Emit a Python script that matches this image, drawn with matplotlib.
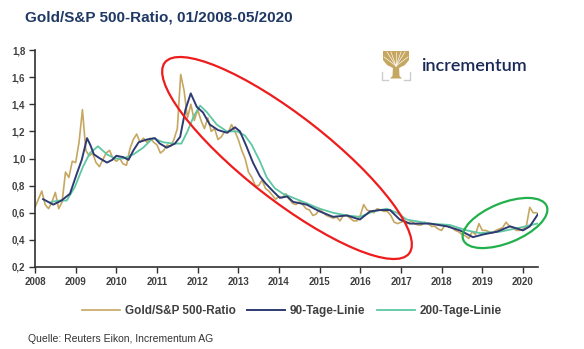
import matplotlib
matplotlib.use('Agg')
import matplotlib.pyplot as plt
from matplotlib.patches import Ellipse, Polygon, Rectangle
import pandas as pd

plt.rcParams['font.family'] = ['Liberation Sans', 'DejaVu Sans']

# Gold/S&P 500 ratio, monthly, 01/2008 - 05/2020
months = pd.date_range('2008-01-01', '2020-05-01', freq='MS')
ratio = [
    0.64, 0.70, 0.76, 0.66, 0.63, 0.68, 0.75, 0.63, 0.68, 0.90, 0.86, 0.98,   # 2008
    0.97, 1.12, 1.36, 1.06, 1.02, 1.04, 0.97, 0.94, 0.99, 1.04, 1.06, 1.00,   # 2009
    0.98, 1.00, 0.96, 0.95, 1.07, 1.14, 1.18, 1.12, 1.15, 1.12, 1.15, 1.12,   # 2010
    1.10, 1.04, 1.06, 1.10, 1.09, 1.14, 1.22, 1.62, 1.50, 1.30, 1.40, 1.28,   # 2011
    1.36, 1.28, 1.22, 1.30, 1.20, 1.22, 1.14, 1.16, 1.20, 1.19, 1.25, 1.20,   # 2012
    1.14, 1.06, 1.00, 0.90, 0.86, 0.80, 0.80, 0.84, 0.78, 0.76, 0.73, 0.70,   # 2013
    0.72, 0.71, 0.74, 0.70, 0.67, 0.66, 0.68, 0.66, 0.63, 0.62, 0.58, 0.59,   # 2014
    0.63, 0.60, 0.58, 0.57, 0.56, 0.57, 0.54, 0.58, 0.58, 0.56, 0.54, 0.54,   # 2015
    0.58, 0.66, 0.62, 0.61, 0.60, 0.63, 0.62, 0.61, 0.61, 0.58, 0.53, 0.52,   # 2016
    0.53, 0.54, 0.52, 0.54, 0.52, 0.51, 0.51, 0.53, 0.52, 0.50, 0.50, 0.48,   # 2017
    0.47, 0.51, 0.50, 0.49, 0.47, 0.46, 0.44, 0.43, 0.41, 0.46, 0.44, 0.52,   # 2018
    0.47, 0.47, 0.46, 0.45, 0.47, 0.48, 0.49, 0.53, 0.50, 0.49, 0.47, 0.47,   # 2019
    0.48, 0.50, 0.64, 0.60, 0.60,                                             # 2020
]

# 90-Tage-Linie (decimal year, value)
ma90_t = [2008.20, 2008.45, 2008.65, 2008.86, 2009.03, 2009.15, 2009.28, 2009.36, 2009.45,
          2009.60, 2009.77, 2009.90, 2010.00, 2010.17, 2010.30, 2010.42, 2010.55, 2010.75,
          2010.95, 2011.07, 2011.24, 2011.44, 2011.57, 2011.70, 2011.83, 2011.98, 2012.13,
          2012.30, 2012.50, 2012.72, 2012.92, 2013.04, 2013.20, 2013.36, 2013.53, 2013.66,
          2013.85, 2014.02, 2014.20, 2014.35, 2014.68, 2015.00, 2015.33, 2015.67, 2015.99,
          2016.24, 2016.48, 2016.73, 2016.97, 2017.22, 2017.71, 2018.13, 2018.45, 2018.77,
          2019.02, 2019.36, 2019.68, 2020.00, 2020.17, 2020.37]
ma90 = [0.70, 0.66, 0.69, 0.74, 0.89, 0.99, 1.15, 1.10, 1.03,
        1.00, 0.97, 0.99, 1.02, 1.01, 0.99, 1.06, 1.12, 1.14,
        1.15, 1.11, 1.08, 1.11, 1.16, 1.36, 1.48, 1.38, 1.34,
        1.25, 1.21, 1.19, 1.23, 1.20, 1.09, 0.97, 0.87, 0.82,
        0.76, 0.71, 0.72, 0.68, 0.66, 0.61, 0.57, 0.58, 0.55,
        0.61, 0.62, 0.62, 0.55, 0.52, 0.52, 0.50, 0.47, 0.42,
        0.44, 0.46, 0.50, 0.47, 0.50, 0.59]

# 200-Tage-Linie (decimal year, value)
ma200_t = [2008.40, 2008.60, 2008.78, 2008.98, 2009.18, 2009.35, 2009.55, 2009.77, 2009.97,
           2010.17, 2010.42, 2010.66, 2010.90, 2011.15, 2011.40, 2011.60, 2011.75, 2011.90,
           2012.06, 2012.23, 2012.47, 2012.72, 2012.97, 2013.16, 2013.33, 2013.53, 2013.70,
           2013.90, 2014.10, 2014.35, 2014.68, 2015.00, 2015.33, 2015.67, 2015.99, 2016.32,
           2016.65, 2016.90, 2017.14, 2017.71, 2018.20, 2018.62, 2018.94, 2019.43, 2019.92,
           2020.35]
ma200 = [0.68, 0.69, 0.69, 0.79, 0.94, 1.04, 1.09, 1.03, 1.00,
         1.00, 1.03, 1.08, 1.15, 1.12, 1.11, 1.11, 1.20, 1.31,
         1.39, 1.34, 1.25, 1.20, 1.20, 1.17, 1.10, 0.98, 0.86,
         0.78, 0.74, 0.71, 0.67, 0.63, 0.60, 0.58, 0.57, 0.61,
         0.63, 0.60, 0.55, 0.52, 0.51, 0.47, 0.45, 0.46, 0.49,
         0.52]

years = list(range(2008, 2021))
yticks = [0.2, 0.4, 0.6, 0.8, 1.0, 1.2, 1.4, 1.6, 1.8]

GOLD = '#C6A761'
NAVY = '#2E3B72'
TEAL = '#5EC7A3'
TXT = '#404040'

W, H = 584, 349
fig = plt.figure(figsize=(W / 100, H / 100), dpi=100)
ax = fig.add_axes([35 / W, (H - 267) / H, (538 - 35) / W, (267 - 50) / H])

t = months.year + (months.month - 1) / 12.0
ax.plot(t, ratio, color=GOLD, lw=1.2, label='Gold/S&P 500-Ratio', zorder=2)
ax.plot(ma200_t, ma200, color=TEAL, lw=1.3, label='200-Tage-Linie', zorder=3)
ax.plot(ma90_t, ma90, color=NAVY, lw=1.4, label='90-Tage-Linie', zorder=4)

ax.set_xlim(2008, 2020.37)
ax.set_ylim(0.2, 1.8)
ax.set_xticks(years)
ax.set_xticklabels([str(y) for y in years])
ax.set_yticks(yticks)
ax.set_yticklabels([('%.1f' % v).replace('.', ',') for v in yticks])
for s in ['top', 'right']:
    ax.spines[s].set_visible(False)
for s in ['left', 'bottom']:
    ax.spines[s].set_color('#303030')
    ax.spines[s].set_linewidth(1.2)
ax.tick_params(axis='both', direction='out', length=4, width=1, color='#303030',
               labelcolor=TXT, labelsize=7, pad=3)
for lab in ax.get_xticklabels() + ax.get_yticklabels():
    lab.set_fontweight('bold')

# legend (order as in the original)
h, l = ax.get_legend_handles_labels()
order = [0, 2, 1]
leg = fig.legend([h[i] for i in order], [l[i] for i in order], loc='center',
                 bbox_to_anchor=(0.5, 1 - 311 / H), ncol=3, frameon=False,
                 handlelength=3.2, columnspacing=1.0, handletextpad=0.4,
                 prop={'weight': 'bold', 'size': 8.5})
for txt in leg.get_texts():
    txt.set_color(TXT)

# overlay in pixel coordinates for title, logo, ellipses
ov = fig.add_axes([0, 0, 1, 1], zorder=5)
ov.set_xlim(0, W)
ov.set_ylim(H, 0)
ov.axis('off')

ov.text(25, 17, 'Gold/S&P 500-Ratio, 01/2008-05/2020', fontsize=11, fontweight='bold',
        color='#1F3864', va='center', ha='left')
ov.text(28, 339, 'Quelle: Reuters Eikon, Incrementum AG', fontsize=7.5, color='#333333',
        va='center', ha='left')

# highlight ellipses
ov.add_patch(Ellipse((287, 158), 310, 84, angle=38, fill=False, ec='#EE1C1C', lw=1.6))
ov.add_patch(Ellipse((505, 223), 90, 40, angle=-22, fill=False, ec='#22B04B', lw=1.6))

# incrementum logo: tree crown, trunk and grey corner brackets
ov.add_patch(Polygon([(383, 51), (409, 51), (409, 60), (405, 65), (399, 68), (393, 68),
                      (387, 65), (383, 60)], closed=True, fc=GOLD, ec='none'))
ov.add_patch(Polygon([(393, 66), (399, 66), (399.5, 76), (402, 78.5), (390, 78.5), (392.5, 76)],
                     closed=True, fc=GOLD, ec='none'))
for xe, ye in [(384, 57), (387, 52), (391, 52), (396, 51.5), (401, 52), (405, 52), (408, 57)]:
    ov.plot([396, xe], [66, ye], color='white', lw=0.45)
ov.plot([382, 382, 388], [72, 80, 80], color='#CCCCCC', lw=1)
ov.plot([410, 410, 404], [72, 80, 80], color='#CCCCCC', lw=1)
ov.text(421, 66, 'incrementum', fontsize=13, color='#1B2A57', va='center', ha='left',
        family=['Lato', 'DejaVu Sans'], fontweight='semibold')

fig.savefig('out.png', dpi=100)
